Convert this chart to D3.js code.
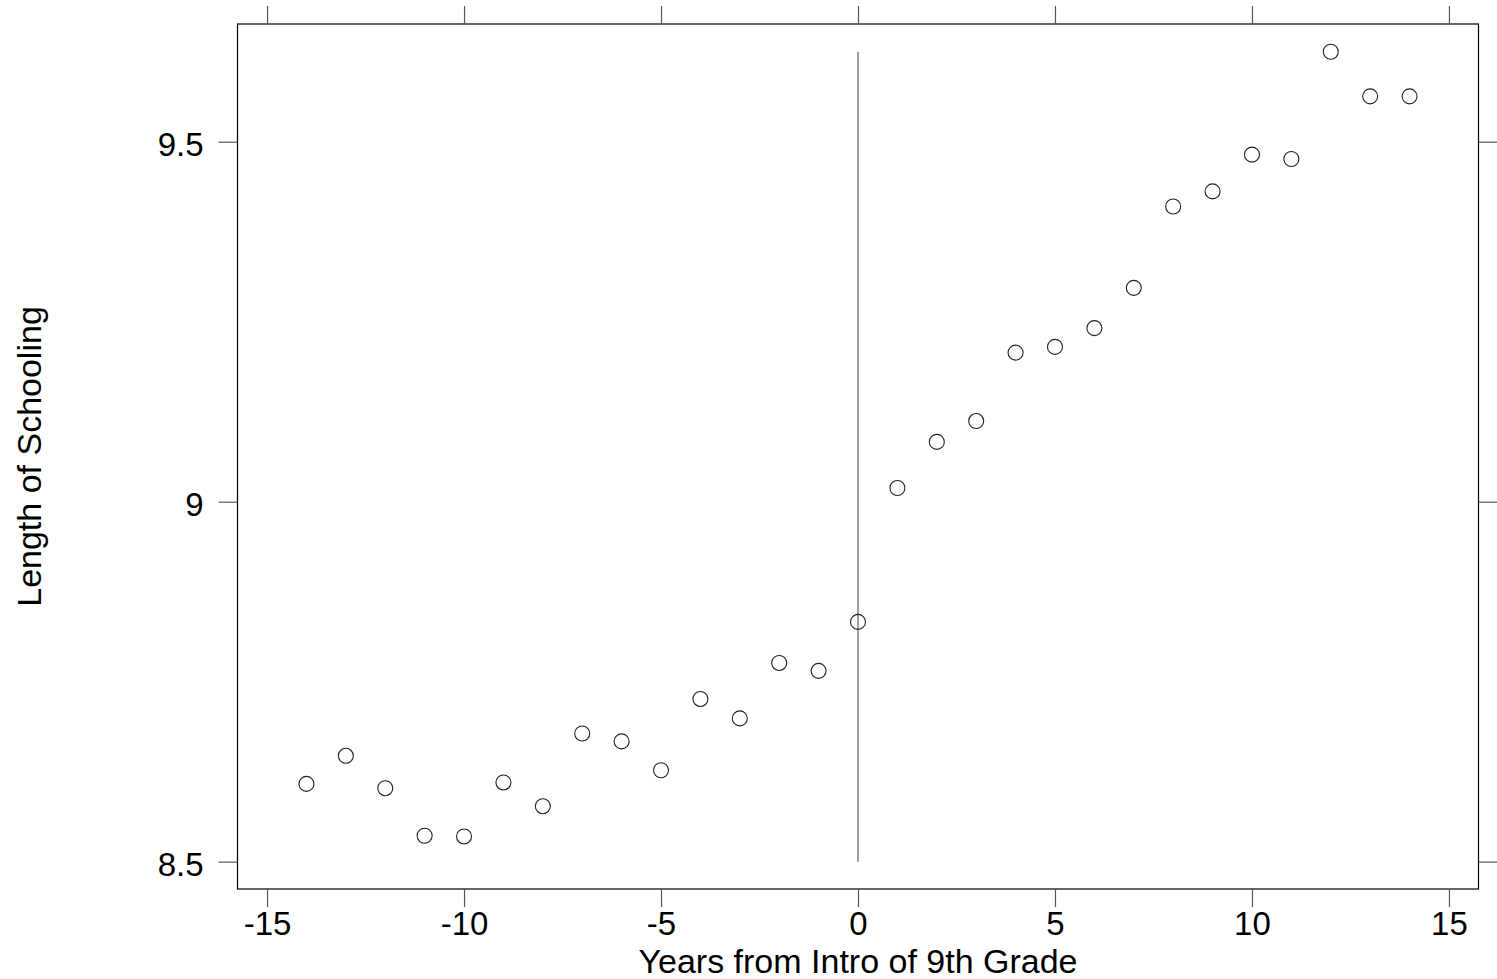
<!DOCTYPE html>
<html>
<head>
<meta charset="utf-8">
<script src="https://cdn.jsdelivr.net/npm/d3@7"></script>
<style>
  body { margin: 0; background: #fff; }
  svg { display: block; font-family: "Liberation Sans", Arial, sans-serif; }
</style>
</head>
<body>
<svg id="chart" width="1497" height="979"></svg>
<script>
// years relative to the introduction of 9th grade
const years = [-14, -13, -12, -11, -10, -9, -8, -7, -6, -5, -4, -3, -2, -1, 0,
               1, 2, 3, 4, 5, 6, 7, 8, 9, 10, 11, 12, 13, 14];
// mean length of schooling per cohort
const schooling = [8.608, 8.647, 8.602, 8.536, 8.535, 8.610, 8.577, 8.678, 8.667, 8.627,
                   8.726, 8.699, 8.776, 8.765, 8.833,
                   9.019, 9.083, 9.112, 9.207, 9.215, 9.241, 9.297, 9.410, 9.431, 9.482,
                   9.476, 9.625, 9.563, 9.563];
const xTicks = [-15, -10, -5, 0, 5, 10, 15];
const yTicks = [8.5, 9, 9.5];
const xTitle = "Years from Intro of 9th Grade";
const yTitle = "Length of Schooling";

const svg = d3.select("#chart");
const plotL = 237.5, plotR = 1478.5, plotT = 24, plotB = 889;

const x = d3.scaleLinear().domain([-15.75, 15.75]).range([plotL, plotR]);
const y = d3.scaleLinear().domain([8.462, 9.6635]).range([plotB, plotT]);

const data = years.map((yr, i) => ({ yr, v: schooling[i] }));

// frame
svg.append("rect")
    .attr("x", plotL).attr("y", plotT)
    .attr("width", plotR - plotL).attr("height", plotB - plotT)
    .attr("fill", "none").attr("stroke", "#000").attr("stroke-width", 1.2);

function styleAxis(g) {
    g.select(".domain").remove();
    g.selectAll(".tick line").attr("stroke", "#555").attr("stroke-width", 1.2);
    g.selectAll(".tick text").attr("fill", "#000").style("font-size", "33px");
}

// plain hyphen for negatives, like the original
const plain = d => String(d);

svg.append("g")
    .attr("transform", `translate(0,${plotB})`)
    .call(d3.axisBottom(x).tickValues(xTicks).tickSize(18).tickPadding(5).tickFormat(plain))
    .call(styleAxis);

svg.append("g")
    .attr("transform", `translate(0,${plotT})`)
    .call(d3.axisTop(x).tickValues(xTicks).tickSize(18).tickFormat(""))
    .call(styleAxis);

svg.append("g")
    .attr("transform", `translate(${plotL},0)`)
    .call(d3.axisLeft(y).tickValues(yTicks).tickSize(19).tickPadding(15).tickFormat(plain))
    .call(styleAxis)
    .call(g => g.selectAll(".tick text").attr("dy", "0.43em"));

svg.append("g")
    .attr("transform", `translate(${plotR},0)`)
    .call(d3.axisRight(y).tickValues(yTicks).tickSize(19).tickFormat(""))
    .call(styleAxis);

// vertical reference line at 0
svg.append("line")
    .attr("x1", x(0)).attr("x2", x(0))
    .attr("y1", y(8.5)).attr("y2", y(d3.max(schooling)))
    .attr("stroke", "#777").attr("stroke-width", 1.4);

// points
svg.append("g")
    .selectAll("circle")
    .data(data)
    .enter()
    .append("circle")
    .attr("cx", d => x(d.yr))
    .attr("cy", d => y(d.v))
    .attr("r", 7.5)
    .attr("fill", "none")
    .attr("stroke", "#222")
    .attr("stroke-width", 1.1);

// titles
svg.append("text")
    .attr("x", (plotL + plotR) / 2)
    .attr("y", 972.5)
    .attr("text-anchor", "middle")
    .style("font-size", "34px")
    .text(xTitle);

svg.append("text")
    .attr("transform", `translate(41,${(plotT + plotB) / 2}) rotate(-90)`)
    .attr("text-anchor", "middle")
    .style("font-size", "34px")
    .text(yTitle);
</script>
</body>
</html>
